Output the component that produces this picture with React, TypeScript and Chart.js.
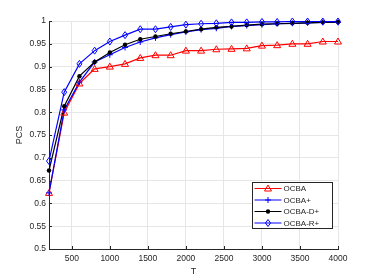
import React, { useEffect, useRef } from 'react';
import { Chart, registerables } from 'chart.js';

Chart.register(...registerables);

const tValues = [200, 400, 600, 800, 1000, 1200, 1400, 1600, 1800, 2000, 2200, 2400, 2600, 2800, 3000, 3200, 3400, 3600, 3800, 4000];
const ocba = [0.623, 0.799, 0.863, 0.895, 0.9, 0.906, 0.919, 0.925, 0.925, 0.935, 0.935, 0.938, 0.939, 0.94, 0.946, 0.947, 0.95, 0.95, 0.955, 0.955];
const ocbaPlus = [0.623, 0.805, 0.866, 0.91, 0.926, 0.942, 0.954, 0.963, 0.97, 0.976, 0.981, 0.984, 0.988, 0.99, 0.992, 0.994, 0.995, 0.996, 0.997, 0.997];
const ocbaDPlus = [0.672, 0.813, 0.879, 0.91, 0.931, 0.948, 0.96, 0.966, 0.972, 0.977, 0.982, 0.986, 0.988, 0.991, 0.993, 0.994, 0.995, 0.996, 0.997, 0.998];
const ocbaRPlus = [0.693, 0.844, 0.906, 0.935, 0.955, 0.969, 0.982, 0.982, 0.987, 0.992, 0.994, 0.995, 0.997, 0.997, 0.998, 0.998, 0.999, 0.999, 0.999, 0.999];

const seriesNames = ['OCBA', 'OCBA+', 'OCBA-D+', 'OCBA-R+'];
const seriesColors = ['#ff0000', '#0000ff', '#000000', '#0000ff'];
const seriesMarkers = ['triangle', 'plus', 'dot', 'diamond'];

const xTicks = [500, 1000, 1500, 2000, 2500, 3000, 3500, 4000];
const yTicks = [0.5, 0.55, 0.6, 0.65, 0.7, 0.75, 0.8, 0.85, 0.9, 0.95, 1];
const yTickLabels = ['0.5', '0.55', '0.6', '0.65', '0.7', '0.75', '0.8', '0.85', '0.9', '0.95', '1'];

const TEXT = '#262626';
const FONT = "'Liberation Sans', Arial, sans-serif";

function drawMarker(ctx: CanvasRenderingContext2D, kind: string, x: number, y: number, color: string) {
  ctx.save();
  ctx.strokeStyle = color;
  ctx.fillStyle = color;
  ctx.lineWidth = 1;
  ctx.beginPath();
  if (kind === 'triangle') {
    ctx.moveTo(x, y - 3.5);
    ctx.lineTo(x + 3.5, y + 2.5);
    ctx.lineTo(x - 3.5, y + 2.5);
    ctx.closePath();
    ctx.stroke();
  } else if (kind === 'plus') {
    ctx.moveTo(x - 3, y);
    ctx.lineTo(x + 3, y);
    ctx.moveTo(x, y - 3);
    ctx.lineTo(x, y + 3);
    ctx.stroke();
  } else if (kind === 'dot') {
    ctx.arc(x, y, 2.2, 0, Math.PI * 2);
    ctx.fill();
  } else {
    ctx.moveTo(x, y - 3.5);
    ctx.lineTo(x + 2.5, y);
    ctx.lineTo(x, y + 3.5);
    ctx.lineTo(x - 2.5, y);
    ctx.closePath();
    ctx.stroke();
  }
  ctx.restore();
}

const markerPlugin = {
  id: 'customMarkers',
  afterDatasetsDraw(chart: any) {
    const ctx = chart.ctx;
    const xs = chart.scales.x;
    const ys = chart.scales.y;
    chart.data.datasets.forEach((ds: any, i: number) => {
      ds.data.forEach((p: any) => {
        drawMarker(ctx, seriesMarkers[i], xs.getPixelForValue(p.x), ys.getPixelForValue(p.y), seriesColors[i]);
      });
    });
  },
};

const axisPlugin = {
  id: 'matlabAxes',
  afterDraw(chart: any) {
    const ctx = chart.ctx;
    const a = chart.chartArea;
    const xs = chart.scales.x;
    const ys = chart.scales.y;
    ctx.save();
    ctx.strokeStyle = TEXT;
    ctx.lineWidth = 1;
    ctx.beginPath();
    xTicks.forEach((t) => {
      const px = Math.round(xs.getPixelForValue(t)) + 0.5;
      ctx.moveTo(px, a.bottom);
      ctx.lineTo(px, a.bottom - 3);
    });
    yTicks.forEach((t) => {
      const py = Math.round(ys.getPixelForValue(t)) + 0.5;
      ctx.moveTo(a.left, py);
      ctx.lineTo(a.left + 3, py);
    });
    ctx.stroke();

    // legend
    const w = 80;
    const h = 46;
    const left = Math.round(a.right - 6 - w) + 0.5;
    const top = Math.round(a.bottom - 21 - h) + 0.5;
    ctx.fillStyle = '#ffffff';
    ctx.fillRect(left, top, w, h);
    ctx.strokeStyle = TEXT;
    ctx.lineWidth = 1;
    ctx.strokeRect(left, top, w, h);
    ctx.font = `8px ${FONT}`;
    ctx.textBaseline = 'middle';
    ctx.textAlign = 'left';
    seriesNames.forEach((name, i) => {
      const y = top + 6 + i * 11.5;
      ctx.strokeStyle = seriesColors[i];
      ctx.lineWidth = 1;
      ctx.beginPath();
      ctx.moveTo(left + 2, y);
      ctx.lineTo(left + 29, y);
      ctx.stroke();
      drawMarker(ctx, seriesMarkers[i], left + 15.5, y, seriesColors[i]);
      ctx.fillStyle = TEXT;
      ctx.fillText(name, left + 31, y + 0.5);
    });
    ctx.restore();
  },
};

export default function App() {
  const ref = useRef<HTMLCanvasElement | null>(null);

  useEffect(() => {
    document.body.style.margin = '0';
    const canvas = ref.current;
    if (!canvas) return;
    const seriesData = [ocba, ocbaPlus, ocbaDPlus, ocbaRPlus];
    const chart = new Chart(canvas, {
      type: 'line',
      data: {
        datasets: seriesData.map((d, i) => ({
          label: seriesNames[i],
          data: d.map((v, j) => ({ x: tValues[j], y: v })),
          borderColor: seriesColors[i],
          backgroundColor: seriesColors[i],
          borderWidth: 1.2,
          pointRadius: 0,
          fill: false,
          tension: 0,
          order: 3 - i,
        })),
      },
      options: {
        responsive: false,
        animation: false,
        devicePixelRatio: 1,
        layout: { padding: { top: 21, right: 36, left: 0, bottom: 0 } },
        plugins: {
          legend: { display: false },
          tooltip: { enabled: false },
        },
        scales: {
          x: {
            type: 'linear',
            min: 200,
            max: 4000,
            afterFit: (s: any) => {
              s.height = 31;
            },
            afterBuildTicks: (s: any) => {
              s.ticks = xTicks.map((v) => ({ value: v }));
            },
            grid: { color: '#e6e6e6', drawTicks: false, lineWidth: 1 },
            border: { color: TEXT, width: 1 },
            ticks: {
              padding: 5,
              color: TEXT,
              font: { family: FONT, size: 8.5 },
              maxRotation: 0,
              autoSkip: false,
              callback: (v: any) => String(v),
            },
            title: {
              display: true,
              text: 'T',
              color: TEXT,
              font: { family: FONT, size: 9 },
              padding: { top: 0, bottom: 3 },
            },
          },
          y: {
            type: 'linear',
            min: 0.5,
            max: 1,
            afterFit: (s: any) => {
              s.width = 49;
            },
            afterBuildTicks: (s: any) => {
              s.ticks = yTicks.map((v) => ({ value: v }));
            },
            grid: { color: '#e6e6e6', drawTicks: false, lineWidth: 1 },
            border: { color: TEXT, width: 1 },
            ticks: {
              padding: 3,
              color: TEXT,
              font: { family: FONT, size: 8.5 },
              autoSkip: false,
              callback: (_v: any, idx: number) => yTickLabels[idx],
            },
            title: {
              display: true,
              text: 'PCS',
              color: TEXT,
              font: { family: FONT, size: 9 },
              padding: { top: 14, bottom: 0 },
            },
          },
        },
      },
      plugins: [markerPlugin, axisPlugin],
    });
    return () => chart.destroy();
  }, []);

  return <canvas ref={ref} width={374} height={280} style={{ display: 'block', width: '374px', height: '280px' }} />;
}
